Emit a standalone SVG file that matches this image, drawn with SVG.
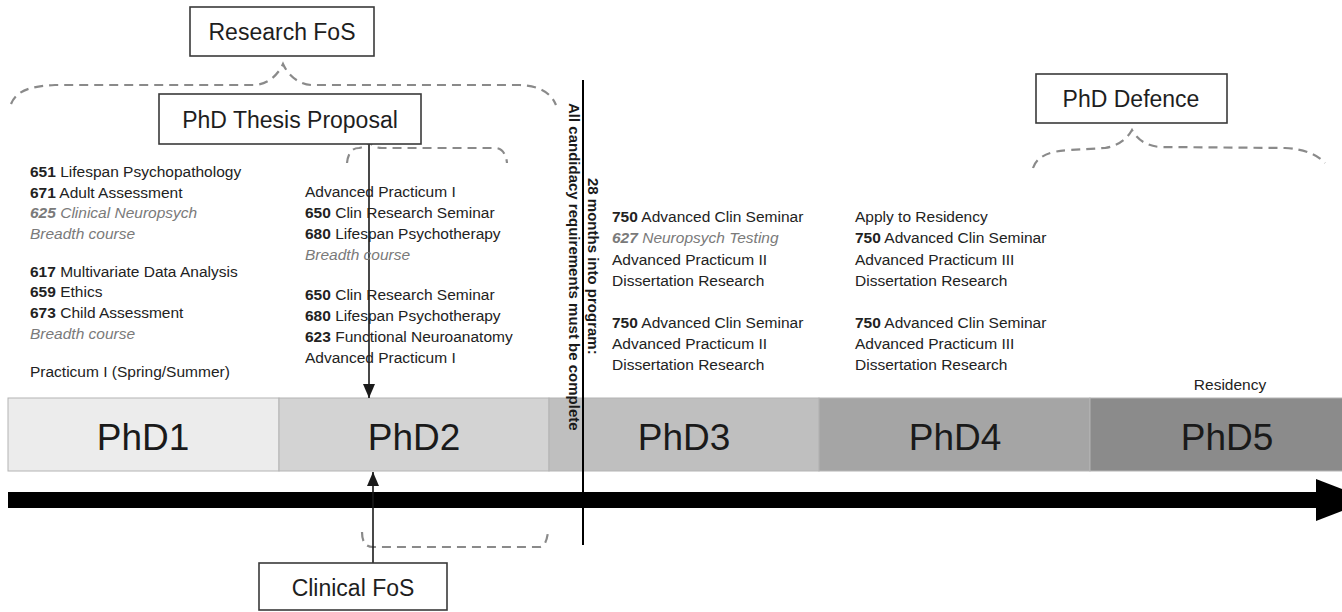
<svg xmlns="http://www.w3.org/2000/svg" width="1342" height="612" viewBox="0 0 1342 612">
  <style>
    .box { fill: #ffffff; stroke: #3a3a3a; stroke-width: 1.6; }
    .boxlabel { font-family: "Liberation Sans", Arial, sans-serif; font-size: 23px; fill: #1e1e1e; text-anchor: middle; }
    .brace { fill: none; stroke: #8a8a8a; stroke-width: 2.2; stroke-dasharray: 9 6; stroke-linecap: butt; }
    .arrow { stroke: #1a1a1a; stroke-width: 1.6; fill: none; }
    .course { font-family: "Liberation Sans", Arial, sans-serif; font-size: 15.5px; fill: #222222; }
    .num { font-weight: bold; }
    .opt { fill: #7a7a7a; font-style: italic; }
    .seg { stroke: #b4b4b4; stroke-width: 1; }
    .phd { font-family: "Liberation Sans", Arial, sans-serif; font-size: 37px; fill: #1a1a1a; text-anchor: middle; }
    .vert { font-family: "Liberation Sans", Arial, sans-serif; font-size: 15px; font-weight: bold; fill: #1a1a1a; }
  </style>
  <defs>
    <marker id="head" markerUnits="userSpaceOnUse" markerWidth="14" markerHeight="14" refX="14" refY="6" orient="auto">
      <path d="M0,0 L14,6 L0,12 Z" fill="#1a1a1a"/>
    </marker>
  </defs>

  <rect width="1342" height="612" fill="#ffffff"/>

  <!-- timeline bar -->
  <g id="timeline">
    <rect class="seg" x="8" y="398" width="271" height="73" fill="#ececec"/>
    <rect class="seg" x="279" y="398" width="270" height="73" fill="#d3d3d3"/>
    <rect class="seg" x="549" y="398" width="270" height="73" fill="#bfbfbf"/>
    <rect class="seg" x="819" y="398" width="271" height="73" fill="#a5a5a5"/>
    <rect class="seg" x="1090" y="398" width="260" height="73" fill="#8b8b8b"/>
    <text class="phd" x="143" y="450">PhD1</text>
    <text class="phd" x="414" y="450">PhD2</text>
    <text class="phd" x="684" y="450">PhD3</text>
    <text class="phd" x="955" y="450">PhD4</text>
    <text class="phd" x="1227" y="450">PhD5</text>
  </g>

  <!-- time axis -->
  <g id="time-axis">
    <rect x="8" y="492" width="1310" height="16" fill="#000000"/>
    <path d="M1316,479 L1370,500 L1316,521 Z" fill="#000000"/>
  </g>

  <!-- candidacy deadline -->
  <g id="candidacy">
    <line x1="583" y1="80" x2="583" y2="545" stroke="#000000" stroke-width="2"/>
    <text class="vert" transform="translate(569,103) rotate(90)">All candidacy requirements must be complete</text>
    <text class="vert" transform="translate(588,178) rotate(90)">28 months into program:</text>
  </g>

  <!-- connectors: braces and arrows -->
  <g id="connectors">
    <path class="brace" d="M11,104 C16,91 30,86 55,85 L255,85 C268,84 278,75 283,64 C288,75 298,84 311,85 L520,85 C540,86 551,93 556,105"/>
    <path class="brace" d="M347,163 C348,153 352,148 359,148 C364,147 367,145 369,141 C371,145 375,148 382,148 L495,148 C502,148 506,154 507,163"/>
    <path class="brace" d="M1033,168 C1037,156 1050,151 1070,150 L1105,148 C1118,146 1127,139 1132,130 C1137,139 1146,146 1160,147 L1285,148 C1305,149 1318,155 1325,163"/>
    <path class="brace" d="M362,532 C362,541 365,547 373,547 L540,547 C545,546 547,540 548,532"/>
    <line class="arrow" x1="369" y1="143" x2="369" y2="398" marker-end="url(#head)"/>
    <line class="arrow" x1="373" y1="563" x2="373" y2="472" marker-end="url(#head)"/>
  </g>

  <g id="research-fos">
    <rect class="box" x="190" y="7" width="184" height="49"/>
    <text class="boxlabel" x="282" y="40">Research FoS</text>
  </g>

  <g id="thesis-proposal">
    <rect class="box" x="159" y="94" width="262" height="50"/>
    <text class="boxlabel" x="290" y="128">PhD Thesis Proposal</text>
  </g>

  <g id="phd-defence">
    <rect class="box" x="1036" y="74" width="191" height="49"/>
    <text class="boxlabel" x="1131" y="107">PhD Defence</text>
  </g>

  <g id="clinical-fos">
    <rect class="box" x="259" y="563" width="188" height="47"/>
    <text class="boxlabel" x="353" y="596">Clinical FoS</text>
  </g>

  <g id="year1-courses">
    <text class="course" x="30" y="177"><tspan class="num">651</tspan> Lifespan Psychopathology</text>
    <text class="course" x="30" y="198"><tspan class="num">671</tspan> Adult Assessment</text>
    <text class="course opt" x="30" y="218"><tspan class="num">625</tspan> Clinical Neuropsych</text>
    <text class="course opt" x="30" y="239">Breadth course</text>
    <text class="course" x="30" y="277"><tspan class="num">617</tspan> Multivariate Data Analysis</text>
    <text class="course" x="30" y="297"><tspan class="num">659</tspan> Ethics</text>
    <text class="course" x="30" y="318"><tspan class="num">673</tspan> Child Assessment</text>
    <text class="course opt" x="30" y="339">Breadth course</text>
    <text class="course" x="30" y="377">Practicum I (Spring/Summer)</text>
  </g>

  <g id="year2-courses">
    <text class="course" x="305" y="197">Advanced Practicum I</text>
    <text class="course" x="305" y="218"><tspan class="num">650</tspan> Clin Research Seminar</text>
    <text class="course" x="305" y="239"><tspan class="num">680</tspan> Lifespan Psychotherapy</text>
    <text class="course opt" x="305" y="260">Breadth course</text>
    <text class="course" x="305" y="300"><tspan class="num">650</tspan> Clin Research Seminar</text>
    <text class="course" x="305" y="321"><tspan class="num">680</tspan> Lifespan Psychotherapy</text>
    <text class="course" x="305" y="342"><tspan class="num">623</tspan> Functional Neuroanatomy</text>
    <text class="course" x="305" y="363">Advanced Practicum I</text>
  </g>

  <g id="year3-courses">
    <text class="course" x="612" y="222"><tspan class="num">750</tspan> Advanced Clin Seminar</text>
    <text class="course opt" x="612" y="243"><tspan class="num">627</tspan> Neuropsych Testing</text>
    <text class="course" x="612" y="265">Advanced Practicum II</text>
    <text class="course" x="612" y="286">Dissertation Research</text>
    <text class="course" x="612" y="328"><tspan class="num">750</tspan> Advanced Clin Seminar</text>
    <text class="course" x="612" y="349">Advanced Practicum II</text>
    <text class="course" x="612" y="370">Dissertation Research</text>
  </g>

  <g id="year4-courses">
    <text class="course" x="855" y="222">Apply to Residency</text>
    <text class="course" x="855" y="243"><tspan class="num">750</tspan> Advanced Clin Seminar</text>
    <text class="course" x="855" y="265">Advanced Practicum III</text>
    <text class="course" x="855" y="286">Dissertation Research</text>
    <text class="course" x="855" y="328"><tspan class="num">750</tspan> Advanced Clin Seminar</text>
    <text class="course" x="855" y="349">Advanced Practicum III</text>
    <text class="course" x="855" y="370">Dissertation Research</text>
  </g>

  <g id="year5">
    <text class="course" x="1230" y="390" font-size="13" text-anchor="middle">Residency</text>
  </g>
</svg>
